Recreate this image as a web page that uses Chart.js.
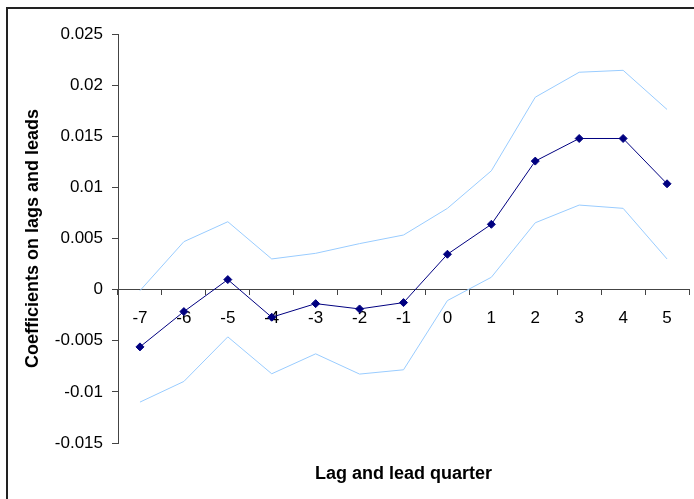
<!DOCTYPE html>
<html>
<head>
<meta charset="utf-8">
<script src="https://cdn.jsdelivr.net/npm/chart.js@4"></script>
<style>
    html, body { margin: 0; padding: 0; background: #fff; overflow: hidden; }
    #wrap { position: relative; width: 694px; height: 499px; }
    #frame {
        position: absolute; left: 6px; top: 7px; width: 720px; height: 520px;
        border: 2px solid #222; box-sizing: border-box; pointer-events: none;
    }
    canvas { position: absolute; left: 0; top: 0; }
</style>
</head>
<body>
<div id="wrap">
    <canvas id="lagChart" width="694" height="499"></canvas>
    <div id="frame"></div>
</div>
<script>
// Kategórie (štvrťroky) a hodnoty odčítané z obrázka
const quarters = ['-7', '-6', '-5', '-4', '-3', '-2', '-1', '0', '1', '2', '3', '4', '5'];
const coefficients = [-0.0056, -0.00215, 0.00098, -0.0027, -0.00137, -0.00189, -0.00127, 0.00346, 0.00639, 0.01257, 0.01478, 0.01478, 0.01035];
const upperBand = [-0.0001, 0.00469, 0.00664, 0.0030, 0.00355, 0.0045, 0.00534, 0.00795, 0.01162, 0.01882, 0.02126, 0.02145, 0.01762];
const lowerBand = [-0.0110, -0.00898, -0.00462, -0.00823, -0.00628, -0.00826, -0.00784, -0.00107, 0.00121, 0.00654, 0.00827, 0.00795, 0.0030];
const yMin = -0.015, yMax = 0.025, yStep = 0.005;

const xTitle = 'Lag and lead quarter';
const yTitle = 'Coefficients on lags and leads';

const axisColor = '#444';
const fontFamily = '"Liberation Sans", Arial, sans-serif';

// Popisy osí kreslené vlastným pluginom
const axisTitles = {
    id: 'axisTitles',
    afterDraw(chart) {
        const { ctx, chartArea } = chart;
        ctx.save();
        ctx.fillStyle = '#000';
        ctx.font = 'bold 18px ' + fontFamily;
        ctx.textAlign = 'center';
        ctx.textBaseline = 'middle';
        ctx.fillText(xTitle, (chartArea.left + chartArea.right) / 2, 474);
        ctx.translate(33, (chartArea.top + chartArea.bottom) / 2);
        ctx.rotate(-Math.PI / 2);
        ctx.fillText(yTitle, 0, 0);
        ctx.restore();
    }
};

const ctx = document.getElementById('lagChart').getContext('2d');
new Chart(ctx, {
    type: 'line',
    data: {
        labels: quarters,
        datasets: [
            {
                label: 'Upper',
                data: upperBand,
                borderColor: '#99ccff',
                borderWidth: 1,
                pointRadius: 0,
                fill: false,
                tension: 0
            },
            {
                label: 'Lower',
                data: lowerBand,
                borderColor: '#99ccff',
                borderWidth: 1,
                pointRadius: 0,
                fill: false,
                tension: 0
            },
            {
                label: 'Coefficient',
                data: coefficients,
                borderColor: '#000080',
                backgroundColor: '#000080',
                borderWidth: 1,
                pointStyle: 'rectRot',
                pointRadius: 4,
                pointBorderWidth: 1,
                fill: false,
                tension: 0
            }
        ]
    },
    options: {
        responsive: false,
        animation: false,
        devicePixelRatio: 1,
        layout: { padding: { left: 0, top: 34, right: 4, bottom: 56 } },
        plugins: {
            legend: { display: false },
            tooltip: { enabled: false }
        },
        scales: {
            x: {
                type: 'category',
                position: { y: 0 },
                offset: true,
                grid: {
                    offset: true,
                    drawOnChartArea: false,
                    drawTicks: true,
                    tickLength: 5,
                    tickColor: axisColor
                },
                border: { color: axisColor, width: 1 },
                ticks: {
                    color: '#000',
                    font: { family: fontFamily, size: 17 },
                    padding: 13,
                    maxRotation: 0,
                    autoSkip: false
                }
            },
            y: {
                min: yMin,
                max: yMax,
                afterFit(scale) { scale.width = 118; },
                grid: {
                    drawOnChartArea: false,
                    drawTicks: true,
                    tickLength: 6,
                    tickColor: axisColor
                },
                border: { color: axisColor, width: 1 },
                ticks: {
                    stepSize: yStep,
                    color: '#000',
                    font: { family: fontFamily, size: 17 },
                    padding: 9,
                    callback: (v) => Number(v.toFixed(3)).toString()
                }
            }
        }
    },
    plugins: [axisTitles]
});
</script>
</body>
</html>
